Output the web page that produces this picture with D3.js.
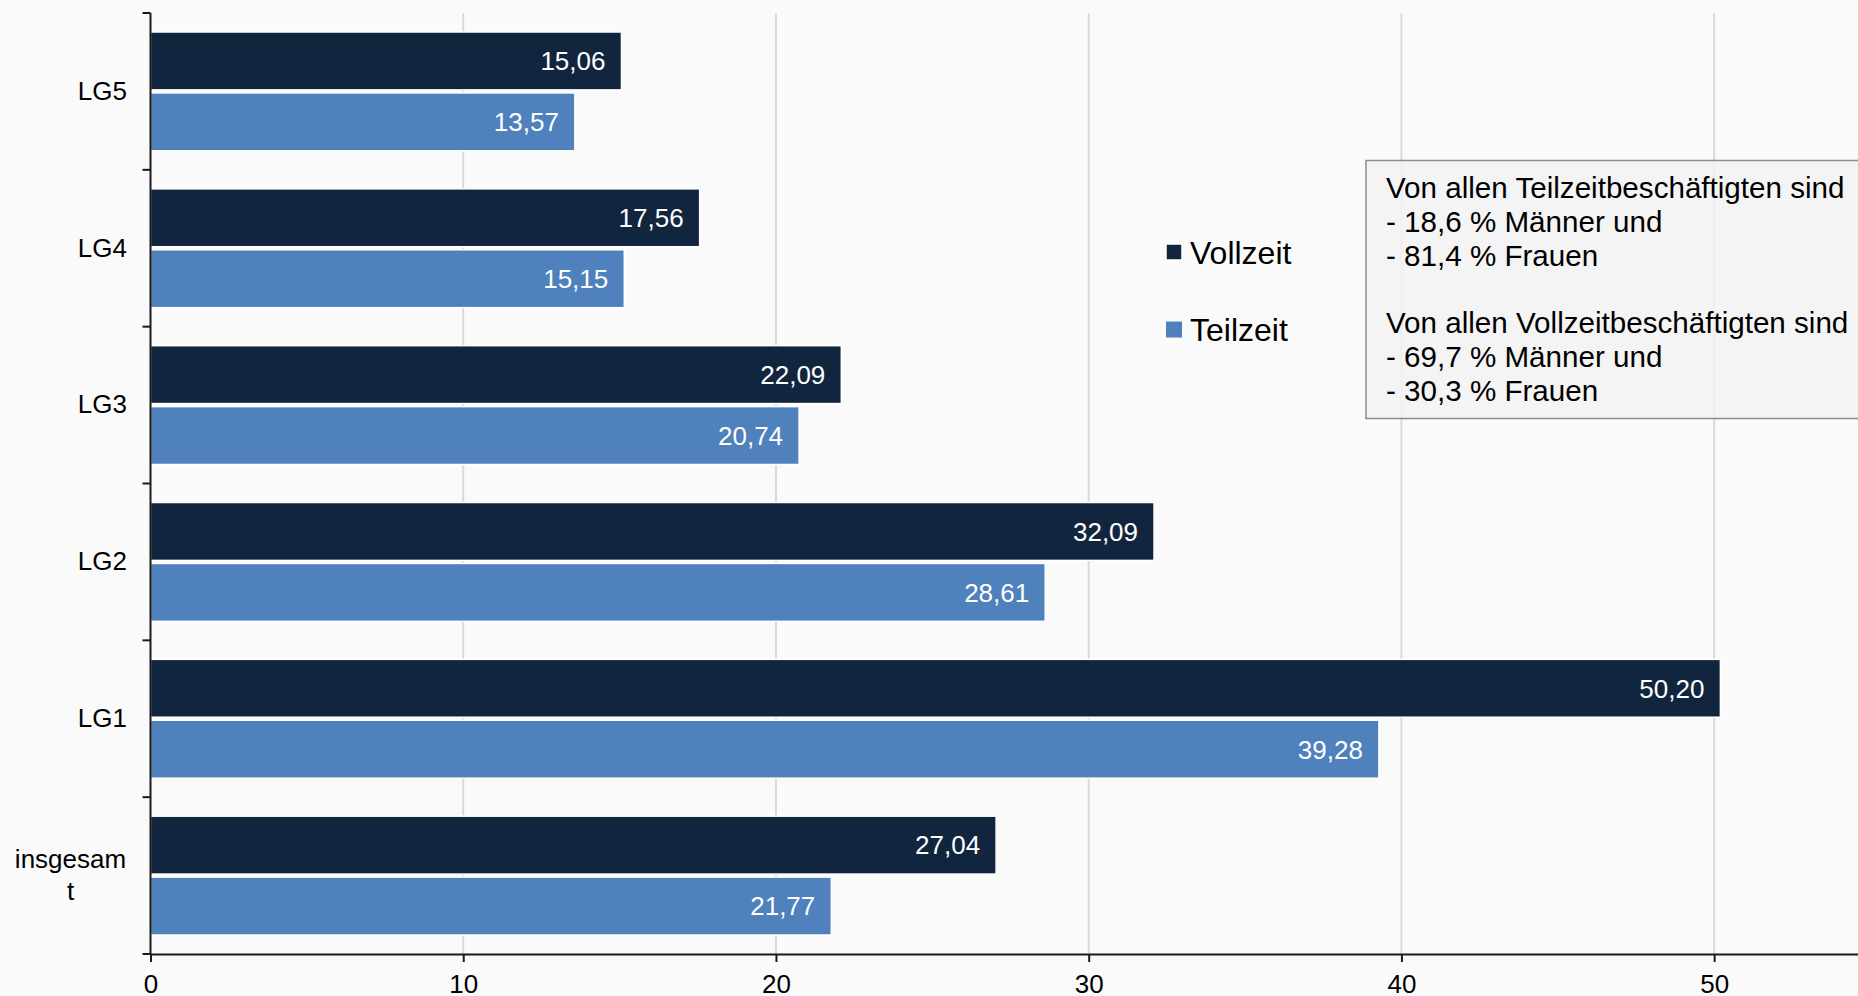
<!DOCTYPE html>
<html>
<head>
<meta charset="utf-8">
<script src="https://cdn.jsdelivr.net/npm/d3@7"></script>
<style>
  body { margin: 0; background: #fafafa; }
  svg { display: block; font-family: "Liberation Sans", Arial, sans-serif; }
</style>
</head>
<body>
<div id="chart"></div>
<script>
// data
var categories = ["LG5", "LG4", "LG3", "LG2", "LG1", "insgesamt"];
var seriesNames = ["Vollzeit", "Teilzeit"];
var vollzeit = [15.06, 17.56, 22.09, 32.09, 50.20, 27.04];
var teilzeit = [13.57, 15.15, 20.74, 28.61, 39.28, 21.77];
var xTicks = [0, 10, 20, 30, 40, 50];
var noteLines = [
  "Von allen Teilzeitbeschäftigten sind",
  "- 18,6 % Männer und",
  "- 81,4 % Frauen",
  "",
  "Von allen Vollzeitbeschäftigten sind",
  "- 69,7 % Männer und",
  "- 30,3 % Frauen"
];
var colors = ["#12253f", "#4f81bd"];

// chart bounds
var svgWidth = 1858;
var svgHeight = 996;
var margin = { top: 13, right: 0, bottom: 42, left: 150.5 };
var plotBottom = svgHeight - margin.bottom;

var svg = d3.select("#chart")
  .append("svg")
  .attr("width", svgWidth)
  .attr("height", svgHeight);

svg.append("rect")
  .attr("width", svgWidth)
  .attr("height", svgHeight)
  .attr("fill", "#fafafa");

// scales
var x = d3.scaleLinear()
  .domain([0, 54.6])
  .range([margin.left, svgWidth - margin.right]);

var y = d3.scaleBand()
  .domain(categories)
  .range([margin.top, plotBottom]);

var ySub = d3.scaleBand()
  .domain(seriesNames)
  .range([19, y.bandwidth() - 19])
  .paddingInner(0.05);

var de = d3.formatLocale({ decimal: ",", thousands: ".", grouping: [3], currency: ["", " €"] });
var fmt = de.format(".2f");

// gridlines
svg.append("g")
  .selectAll("line")
  .data(xTicks.filter(d => d > 0))
  .enter()
  .append("line")
  .attr("x1", d => x(d))
  .attr("x2", d => x(d))
  .attr("y1", margin.top)
  .attr("y2", plotBottom)
  .attr("stroke", "#d9d9d9")
  .attr("stroke-width", 2);

// rows of bars
var rows = categories.map(function(c, i) {
  return { cat: c, values: [vollzeit[i], teilzeit[i]] };
});

var rowGroup = svg.append("g")
  .selectAll("g")
  .data(rows)
  .enter()
  .append("g")
  .attr("transform", d => `translate(0, ${y(d.cat)})`);

rowGroup.selectAll("rect")
  .data(d => d.values.map((v, j) => ({ s: seriesNames[j], v: v, j: j })))
  .enter()
  .append("rect")
  .attr("x", x(0))
  .attr("y", d => ySub(d.s))
  .attr("width", d => x(d.v) - x(0))
  .attr("height", ySub.bandwidth())
  .attr("fill", d => colors[d.j])
  .attr("stroke", "#ffffff")
  .attr("stroke-width", 1.5);

rowGroup.selectAll("text")
  .data(d => d.values.map((v, j) => ({ s: seriesNames[j], v: v })))
  .enter()
  .append("text")
  .attr("x", d => x(d.v) - 16)
  .attr("y", d => ySub(d.s) + ySub.bandwidth() / 2)
  .attr("dy", "0.36em")
  .attr("text-anchor", "end")
  .attr("font-size", "26px")
  .attr("fill", "#ffffff")
  .text(d => fmt(d.v));

// x axis
var xAxis = svg.append("g")
  .attr("transform", `translate(0, ${plotBottom})`)
  .call(d3.axisBottom(x).tickValues(xTicks).tickSize(8).tickPadding(13).tickSizeOuter(0));
xAxis.select(".domain").attr("stroke", "#1a1a1a").attr("stroke-width", 2);
xAxis.selectAll(".tick line").attr("stroke", "#1a1a1a").attr("stroke-width", 2);
xAxis.selectAll(".tick text")
  .attr("font-size", "26px")
  .attr("font-family", "Liberation Sans, Arial, sans-serif")
  .attr("fill", "#000");

// y axis: line + ticks on band boundaries
var yAxis = svg.append("g");
yAxis.append("line")
  .attr("x1", x(0)).attr("x2", x(0))
  .attr("y1", margin.top).attr("y2", plotBottom)
  .attr("stroke", "#1a1a1a")
  .attr("stroke-width", 2);

var bounds = categories.map(c => y(c)).concat([plotBottom]);
yAxis.selectAll(".btick")
  .data(bounds)
  .enter()
  .append("line")
  .attr("class", "btick")
  .attr("x1", x(0) - 8).attr("x2", x(0))
  .attr("y1", d => d).attr("y2", d => d)
  .attr("stroke", "#1a1a1a")
  .attr("stroke-width", 2);

// category labels, wrapped by character like the original
var labelRight = x(0) - 23.5;
var maxLabelWidth = 115;
var lineHeight = 32;

categories.forEach(function(c) {
  var t = yAxis.append("text")
    .attr("font-size", "26px")
    .attr("fill", "#000");
  // split into lines by characters
  var lines = [];
  var cur = "";
  for (var k = 0; k < c.length; k++) {
    t.text(cur + c[k]);
    if (cur.length > 0 && t.node().getComputedTextLength() > maxLabelWidth) {
      lines.push(cur);
      cur = c[k];
    } else {
      cur = cur + c[k];
    }
  }
  lines.push(cur);
  t.text(null);

  var cy = y(c) + y.bandwidth() / 2;
  var y0 = cy - (lines.length - 1) * lineHeight / 2;
  if (lines.length === 1) {
    t.attr("text-anchor", "end")
      .append("tspan")
      .attr("x", labelRight)
      .attr("y", y0 - 1)
      .attr("dy", "0.36em")
      .text(lines[0]);
  } else {
    t.attr("text-anchor", "middle");
    lines.forEach(function(l, i) {
      t.append("tspan")
        .attr("x", labelRight - maxLabelWidth / 2 + 1)
        .attr("y", y0 + i * lineHeight - 1)
        .attr("dy", "0.36em")
        .text(l);
    });
  }
});

// legend
var legend = svg.append("g")
  .attr("transform", "translate(1174, 252)");

var legendItems = legend.selectAll("g")
  .data(seriesNames)
  .enter()
  .append("g")
  .attr("transform", (d, i) => `translate(0, ${i * 77.5})`);

legendItems.append("rect")
  .attr("x", -8).attr("y", -8)
  .attr("width", 16).attr("height", 16)
  .attr("fill", (d, i) => colors[i])
  .attr("stroke", "#ffffff")
  .attr("stroke-width", (d, i) => i === 0 ? 1.5 : 0);

legendItems.append("text")
  .attr("x", 16)
  .attr("dy", "0.36em")
  .attr("font-size", "32px")
  .attr("fill", "#000")
  .text(d => d);

// note box
var note = svg.append("g");
note.append("rect")
  .attr("x", 1366)
  .attr("y", 160.5)
  .attr("width", 520)
  .attr("height", 258)
  .attr("fill", "#f2f2f2")
  .attr("fill-opacity", 0.85)
  .attr("stroke", "#8c8c8c")
  .attr("stroke-width", 1.5);

note.append("text")
  .attr("font-size", "29.6px")
  .attr("fill", "#000")
  .selectAll("tspan")
  .data(noteLines)
  .enter()
  .append("tspan")
  .attr("x", 1386)
  .attr("y", (d, i) => 198 + i * 33.8)
  .text(d => d);
</script>
</body>
</html>
